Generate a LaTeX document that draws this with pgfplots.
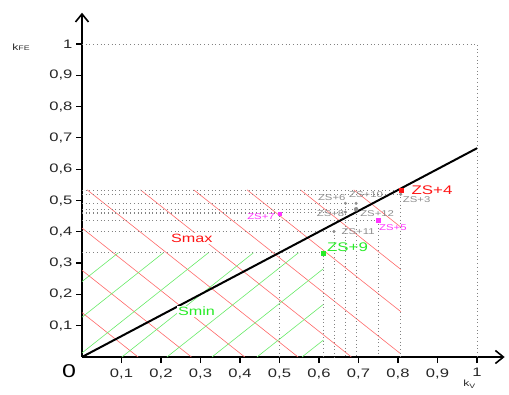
\documentclass[border=0pt]{standalone}
\usepackage{fontspec}
\setmainfont{Liberation Sans}[FakeStretch=1.35]
\usepackage{pgfplots}
\pgfplotsset{compat=1.18}
\usetikzlibrary{arrows.meta}
\definecolor{hred}{RGB}{255,105,105}
\definecolor{hgreen}{RGB}{105,235,105}
\definecolor{zred}{RGB}{255,20,20}
\definecolor{zgreen}{RGB}{40,235,40}
\definecolor{zmag}{RGB}{255,50,255}
\definecolor{zgray}{RGB}{140,140,140}
\definecolor{dotc}{RGB}{130,130,130}
\begin{document}
\begin{tikzpicture}
\useasboundingbox (0,0) rectangle (509pt,394pt);
\begin{axis}[
  at={(82pt,37pt)}, anchor=origin,
  x=395pt, y=313pt,
  xmin=0, xmax=1.07, ymin=0, ymax=1.1,
  enlargelimits=false, clip=false,
  axis lines=left,
  axis line style={line width=1.8pt, -{Straight Barb[length=8pt,width=13pt,line width=1.6pt]}},
  xtick={0.1,0.2,0.3,0.4,0.5,0.6,0.7,0.8,0.9,1},
  ytick={0.1,0.2,0.3,0.4,0.5,0.6,0.7,0.8,0.9,1},
  tick align=outside, major tick length=6pt,
  tick style={black, line width=1.2pt},
  /pgf/number format/use comma,
  /pgf/number format/assume math mode=true,
  tick label style={font=\fontsize{12.3}{14}\selectfont, text=black!85},
  xticklabel style={yshift=-2pt},
]
% red hatching (Smax)
\addplot[hred, line width=0.6pt] coordinates {(0,0.142) (0.142,0)};
\addplot[hred, line width=0.6pt] coordinates {(0,0.277) (0.277,0)};
\addplot[hred, line width=0.6pt] coordinates {(0,0.412) (0.412,0)};
\addplot[hred, line width=0.6pt] coordinates {(0.013,0.534) (0.547,0)};
\addplot[hred, line width=0.6pt] coordinates {(0.148,0.534) (0.682,0)};
\addplot[hred, line width=0.6pt] coordinates {(0.283,0.534) (0.807,0.010)};
\addplot[hred, line width=0.6pt] coordinates {(0.418,0.534) (0.807,0.145)};
\addplot[hred, line width=0.6pt] coordinates {(0.553,0.534) (0.807,0.280)};
\addplot[hred, line width=0.6pt] coordinates {(0.688,0.534) (0.807,0.415)};
% green hatching (Smin)
\addplot[hgreen, line width=0.6pt] coordinates {(0,0.241) (0.092,0.333)};
\addplot[hgreen, line width=0.6pt] coordinates {(0,0.127) (0.206,0.333)};
\addplot[hgreen, line width=0.6pt] coordinates {(0,0.013) (0.320,0.333)};
\addplot[hgreen, line width=0.6pt] coordinates {(0.101,0) (0.434,0.333)};
\addplot[hgreen, line width=0.6pt] coordinates {(0.215,0) (0.548,0.333)};
\addplot[hgreen, line width=0.6pt] coordinates {(0.329,0) (0.611,0.282)};
\addplot[hgreen, line width=0.6pt] coordinates {(0.443,0) (0.611,0.168)};
\addplot[hgreen, line width=0.6pt] coordinates {(0.557,0) (0.611,0.054)};
% dotted guides
\pgfplotsset{dotg/.style={dotc, line width=0.7pt, dash pattern=on 0.7pt off 3pt}}
\addplot[dotg] coordinates {(0,1) (1,1) (1,0)};
\addplot[dotg] coordinates {(0,0.532) (0.807,0.532) (0.807,0)};
\addplot[dotg] coordinates {(0,0.520) (0.807,0.520)};
\addplot[dotg] coordinates {(0,0.491) (0.694,0.491) (0.694,0)};
\addplot[dotg] coordinates {(0.667,0.491) (0.667,0)};
\addplot[dotg] coordinates {(0,0.472) (0.694,0.472)};
\addplot[dotg] coordinates {(0,0.463) (0.667,0.463)};
\addplot[dotg] coordinates {(0,0.459) (0.500,0.459) (0.500,0)};
\addplot[dotg] coordinates {(0,0.436) (0.750,0.436) (0.750,0)};
\addplot[dotg] coordinates {(0,0.401) (0.638,0.401) (0.638,0)};
\addplot[dotg] coordinates {(0,0.333) (0.611,0.333) (0.611,0)};
% main line
\addplot[black, line width=2pt] coordinates {(0,0) (1,0.667)};
% points
\addplot[only marks, mark=square*, mark size=2pt, zred] coordinates {(0.807,0.532)};
\addplot[only marks, mark=*, mark size=1.3pt, zgray] coordinates {(0.807,0.520) (0.638,0.401) (0.667,0.491) (0.694,0.491) (0.667,0.463)};
\addplot[only marks, mark=*, mark size=2pt, zgray] coordinates {(0.694,0.472)};
\addplot[only marks, mark=square*, mark size=2pt, zmag] coordinates {(0.750,0.436)};
\addplot[only marks, mark=square*, mark size=1.5pt, zmag] coordinates {(0.500,0.459)};
\addplot[only marks, mark=square*, mark size=2pt, zgreen] coordinates {(0.611,0.333)};
% labels
\node[anchor=west, inner sep=0pt, text=zred, font=\fontsize{12.5}{14}\selectfont] at (axis cs:0.834,0.534) {ZS+4};
\node[anchor=west, inner sep=0pt, text=zgreen, font=\fontsize{12.5}{14}\selectfont] at (axis cs:0.620,0.352) {ZS+9};
\node[anchor=west, inner sep=0pt, text=zgray, font=\fontsize{8.4}{10}\selectfont] at (axis cs:0.812,0.502) {ZS+3};
\node[anchor=west, inner sep=0pt, text=zmag, font=\fontsize{8.4}{10}\selectfont] at (axis cs:0.752,0.412) {ZS+5};
\node[anchor=west, inner sep=0pt, text=zmag, font=\fontsize{8.4}{10}\selectfont] at (axis cs:0.418,0.447) {ZS+7};
\node[anchor=west, inner sep=0pt, text=zgray, font=\fontsize{8.4}{10}\selectfont] at (axis cs:0.657,0.401) {ZS+11};
\node[anchor=west, inner sep=0pt, text=zgray, font=\fontsize{8.4}{10}\selectfont] at (axis cs:0.597,0.508) {ZS+6};
\node[anchor=west, inner sep=0pt, text=zgray, font=\fontsize{8.4}{10}\selectfont] at (axis cs:0.676,0.518) {ZS+10};
\node[anchor=west, inner sep=0pt, text=zgray, font=\fontsize{8.4}{10}\selectfont] at (axis cs:0.594,0.459) {ZS+8};
\node[anchor=west, inner sep=0pt, text=zgray, font=\fontsize{8.4}{10}\selectfont] at (axis cs:0.704,0.459) {ZS+12};
\node[fill=white, inner sep=1pt, text=zred, font=\fontsize{12}{14}\selectfont] at (axis cs:0.278,0.379) {Smax};
\node[fill=white, inner sep=1pt, text=zgreen, font=\fontsize{12}{14}\selectfont] at (axis cs:0.290,0.145) {Smin};
% axis names
\node[inner sep=0pt, font=\fontsize{18.5}{20}\selectfont] at (axis cs:0,0) [xshift=-13pt, yshift=-14.5pt] {0};
\node[inner sep=0pt, text=black!85, font=\fontsize{9}{10}\selectfont] at (axis cs:0,0.990) [xshift=-61pt] {k{\fontsize{6.5}{8}\selectfont FE}};
\node[anchor=base west, inner sep=0pt, text=black!85, font=\fontsize{9}{10}\selectfont] at (axis cs:0.965,-0.093) {k\raisebox{-2pt}{\fontsize{6.5}{8}\selectfont V}};
\end{axis}
\end{tikzpicture}
\end{document}
